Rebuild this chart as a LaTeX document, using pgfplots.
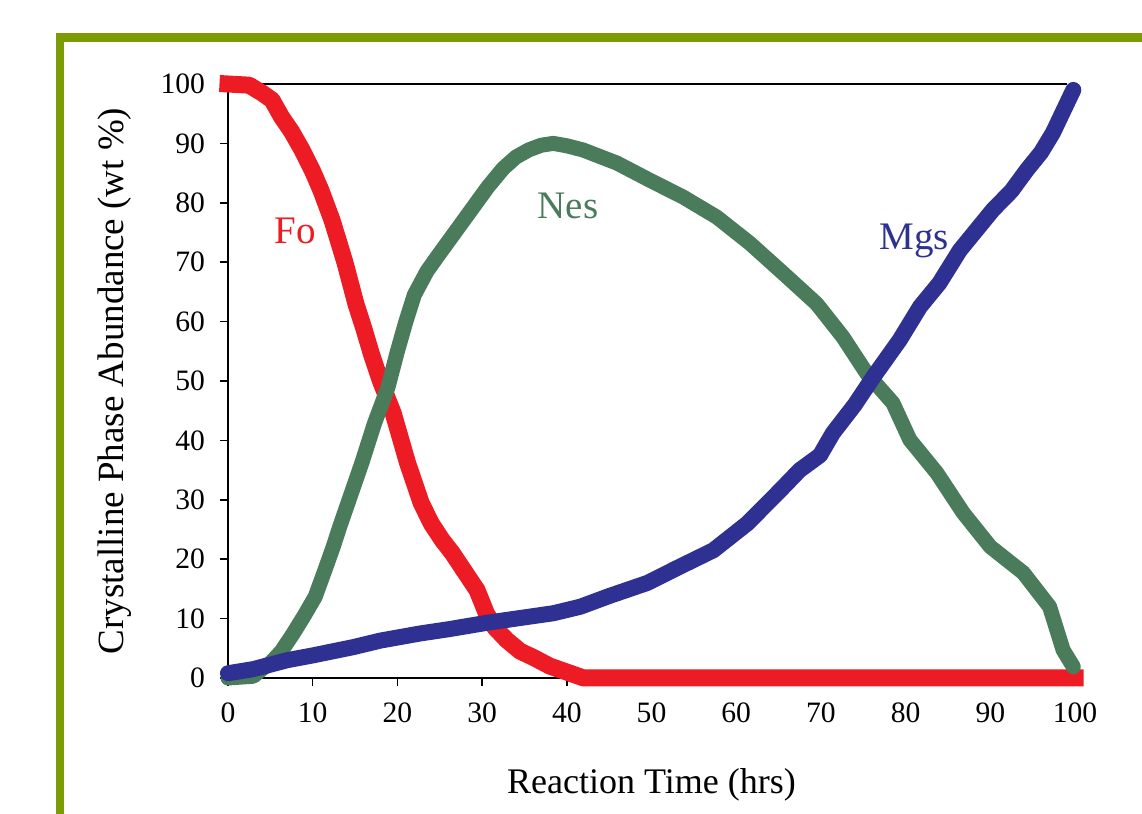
\documentclass[border=0pt]{standalone}
\usepackage{fontspec}
\setmainfont{Liberation Serif}
\usepackage{pgfplots}
\pgfplotsset{compat=1.18}

\definecolor{foRed}{RGB}{237,28,36}
\definecolor{nesGreen}{RGB}{74,124,92}
\definecolor{mgsBlue}{RGB}{46,49,146}
\definecolor{frameGreen}{RGB}{124,155,5}

\begin{document}
\begin{tikzpicture}[x=1pt,y=1pt]
  % page size and the olive frame
  \path[use as bounding box] (-114,-68) rectangle (457,339);
  \fill[frameGreen] (-86,-68) rectangle (-82,322.5);
  \fill[frameGreen] (-86,318) rectangle (457,322.5);
  \begin{axis}[
    at={(0,0)}, anchor=south west,
    scale only axis,
    width=423.5pt, height=297pt,
    xmin=0, xmax=100, ymin=0, ymax=100,
    axis x line*=bottom,
    axis y line*=left,
    axis line style={line width=1pt, black},
    xtick={0,10,...,100},
    ytick={0,10,...,100},
    tick align=outside,
    major tick length=4pt,
    tick style={line width=0.8pt, black},
    /pgf/number format/assume math mode=true,
    ticklabel style={font=\fontsize{14.8}{16}\selectfont},
    xticklabel style={yshift=-5pt},
    yticklabel style={xshift=-4pt},
    xlabel={Reaction Time (hrs)},
    ylabel={Crystalline Phase Abundance (wt \%)},
    xlabel style={font=\fontsize{18}{20}\selectfont, at={(axis description cs:0.5,-0.1936)}, anchor=base},
    ylabel style={font=\fontsize{18.5}{20}\selectfont, at={(axis description cs:-0.1334,0.5)}, anchor=center},
    clip=false,
    line join=round,
    ]
    \draw[line width=1pt] (axis cs:0,100) -- (axis cs:99,100);

    % Fo
    \addplot[foRed, line width=8.5pt, line cap=rect] coordinates {
      (0,100) (2.5,99.8) (4,98.5) (5.2,97.3) (6.3,94.5) (7.5,92) (8.7,89)
      (10,85.3) (11,82) (12.3,77) (13.8,70) (15.1,63) (16,59) (16.9,54.7)
      (18,50) (19.5,44.6) (21.2,36.2) (22.8,29.5) (24,26) (25.3,23.2)
      (26.5,21) (27.8,18.2) (29.4,14.8) (30.5,10.9) (31.5,8.5) (32.9,6.4)
      (34.5,4.5) (36,3.5) (38,2) (40,1) (42,0) (100,0)
    };
    % Nes
    \addplot[nesGreen, line width=7.5pt, line cap=round] coordinates {
      (0,0) (3,0.3) (4,1.5) (5,2.5) (6.3,4.5) (7.7,7.5) (9,10.5) (10.3,13.7)
      (11.4,18) (12.4,22) (13.2,25.5) (14,28.8) (15.8,36.2) (17.3,42.9)
      (18.9,49) (20,55) (21,60) (22,64.5) (23.5,68.5) (25,71.5) (27.8,77)
      (30.7,82.7) (32.5,85.8) (34,87.7) (35.5,88.9) (37,89.7) (38.4,90)
      (40,89.6) (41.9,88.9) (45.9,86.7) (49.8,83.8) (53.7,81) (57.7,77.6)
      (61.6,73.2) (65.5,68.2) (69.5,63) (72.6,57.4) (75.4,51.3) (78.5,46.3)
      (80.5,40.1) (83.7,34.5) (86.8,27.8) (90,22.1) (93.9,17.7) (97,12)
      (98.6,4.7) (99.8,1.9)
    };
    % Mgs
    \addplot[mgsBlue, line width=8pt, line cap=round] coordinates {
      (0,0.8) (3,1.5) (7,3) (10,3.8) (14.8,5.2) (18,6.3) (22.7,7.5) (26,8.2)
      (30.6,9.3) (34,10) (38.4,10.9) (41.6,12) (45,13.8) (49.5,16) (53,18.5)
      (57.3,21.5) (61.3,26) (65.2,31.6) (67.5,35) (69.9,37.5) (71.4,41.2)
      (74,46) (76.2,50.7) (79.3,56.9) (81.7,62.5) (84,66.5) (86.4,72)
      (90.3,78.8) (92.5,82) (94.3,85.5) (96,88.5) (97.4,91.8) (99.8,99)
    };

    \node[anchor=base west, text=foRed, font=\fontsize{19.5}{20}\selectfont, inner sep=0pt] at (axis cs:5.5,73.2) {Fo};
    \node[anchor=base west, text=nesGreen, font=\fontsize{19.5}{20}\selectfont, inner sep=0pt] at (axis cs:36.5,77.4) {Nes};
    \node[anchor=base west, text=mgsBlue, font=\fontsize{19.5}{20}\selectfont, inner sep=0pt] at (axis cs:76.9,72.1) {Mgs};
  \end{axis}
\end{tikzpicture}
\end{document}
